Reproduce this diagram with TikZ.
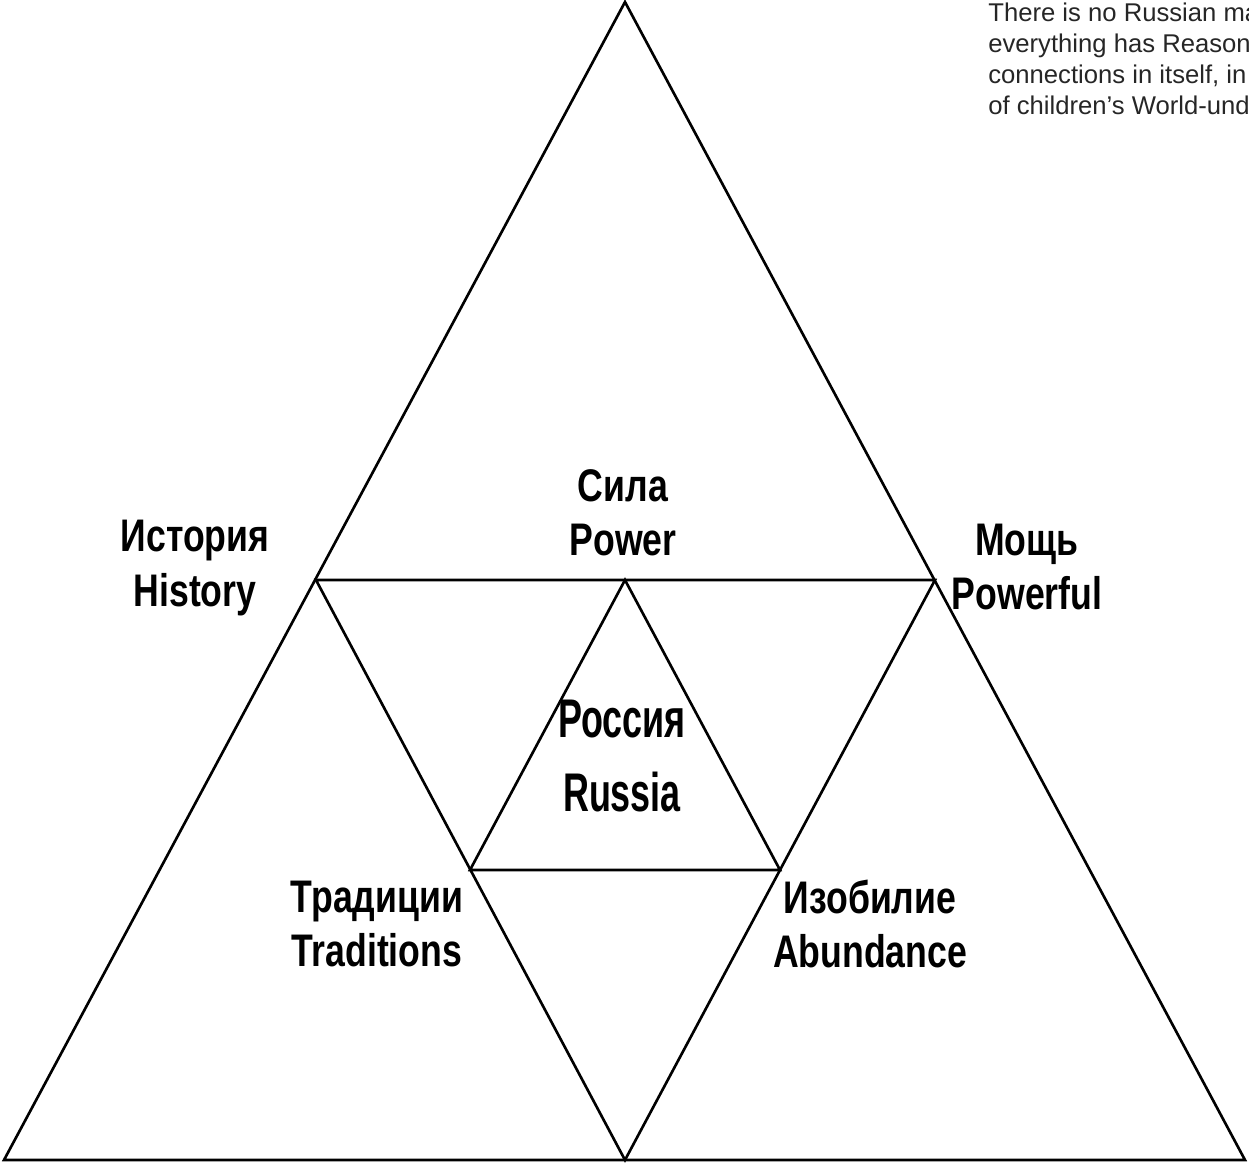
\documentclass[tikz,border=0pt]{standalone}
\usepackage{fontspec}
\setmainfont{Liberation Sans}
\newfontfamily\lblfont[FakeStretch=0.78]{Liberation Sans}
\newfontfamily\corefont[FakeStretch=0.66]{Liberation Sans}
\usetikzlibrary{positioning}

\begin{document}
\begin{tikzpicture}[x=0.02cm, y=-0.02cm, line join=miter,
     edge/.style={draw=black, line width=1.5pt},
     lbl/.style={inner sep=0pt, align=center, font=\lblfont\bfseries\fontsize{26}{31}\selectfont},
     core/.style={inner sep=0pt, align=center, font=\corefont\bfseries\fontsize{31}{42}\selectfont},
     note/.style={inner sep=0pt, align=left, text=black!85, font=\fontsize{14.6}{17.6}\selectfont}]
   \clip (0,0) rectangle (1249,1167);
   \useasboundingbox (0,0) rectangle (1249,1167);
   % corners of the big triangle and its midpoints
   \coordinate (top) at (625,2);
   \coordinate (bl)  at (4,1160);
   \coordinate (br)  at (1245,1160);
   \coordinate (ml)  at (316,580);
   \coordinate (mr)  at (935,580);
   \coordinate (mb)  at (625,1160);
   % inner triangle
   \coordinate (it)  at (625,580);
   \coordinate (il)  at (470,870);
   \coordinate (ir)  at (780,870);
   \draw[edge] (top) -- (br) -- (bl) -- cycle;
   \draw[edge] (ml) -- (mr) -- (mb) -- cycle;
   \draw[edge] (it) -- (ir) -- (il) -- cycle;
   % labels
   \node[lbl] (hist)  at (195,568) {История\\History};
   \node[lbl] (power) at (623,513) {Сила\\Power};
   \node[lbl] (might) at (1027,567) {Мощь\\Powerful};
   \node[core] (rus)  at (622,756) {Россия\\Russia};
   \node[lbl] (trad)  at (377,924) {Традиции\\Traditions};
   \node[lbl] (abund) at (870,924) {Изобилие\\Abundance};
   \node[note, anchor=north west] (quote) at (988,3)
     {There is no Russian ma\\everything has Reason\\connections in itself, in\\of children's World-und};
  \end{tikzpicture}
\end{document}
